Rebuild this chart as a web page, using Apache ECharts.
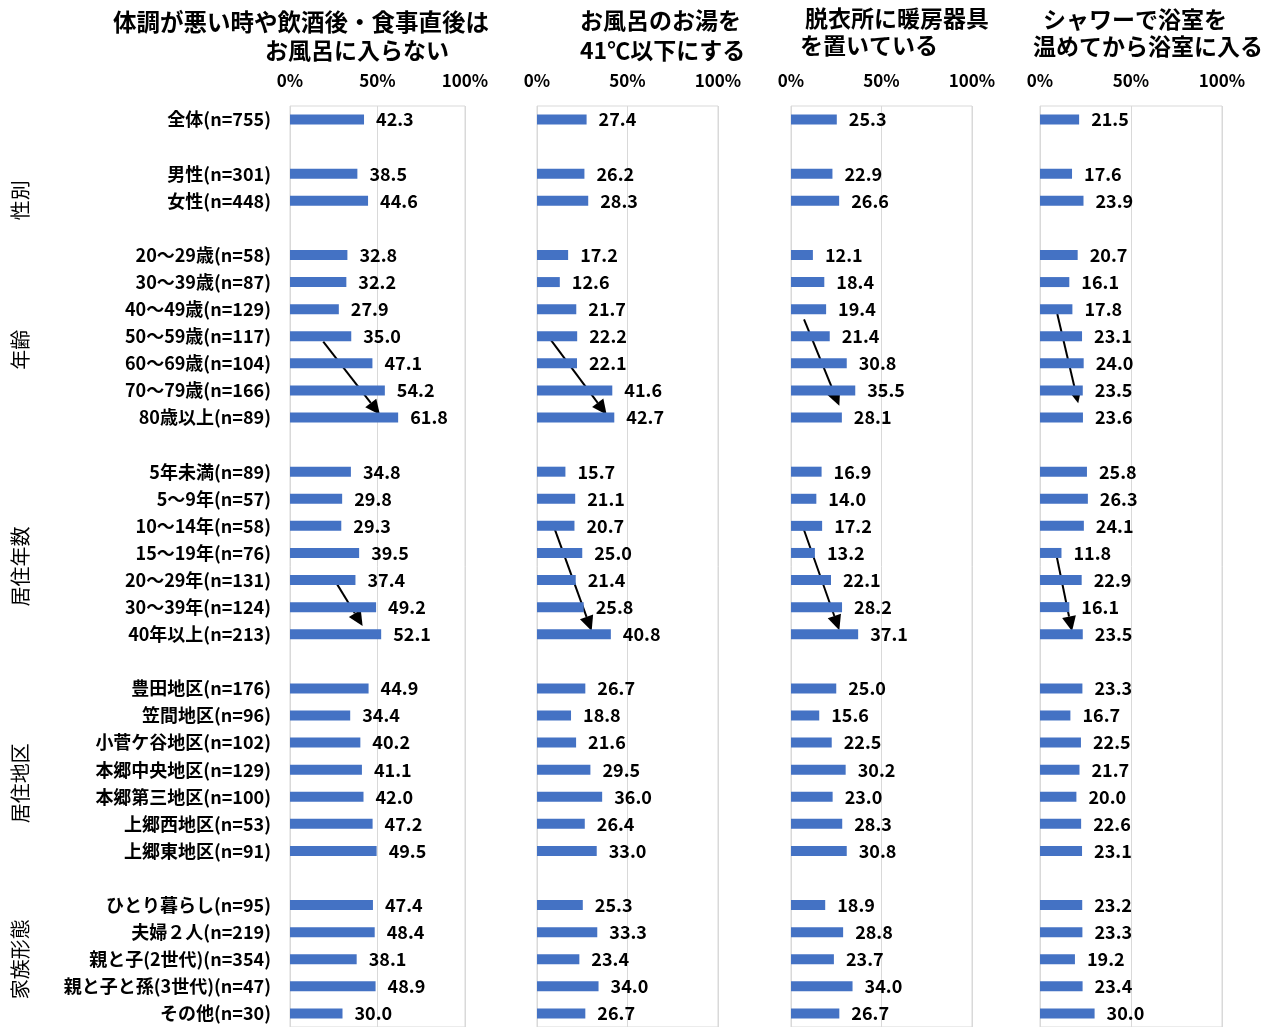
<!DOCTYPE html>
<html><head><meta charset="utf-8">
<script src="https://cdn.jsdelivr.net/npm/echarts@6/dist/echarts.min.js"></script>
<style>html,body{margin:0;padding:0;background:#fff}#c{width:1270px;height:1027px}</style>
</head><body><div id="c"></div>
<script>
// ---- data ----
const groupNames = ['性別', '年齢', '居住年数', '居住地区', '家族形態'];
const catTotal = ['全体(n=755)'];
const catSex = ['男性(n=301)', '女性(n=448)'];
const catAge = ['20～29歳(n=58)', '30～39歳(n=87)', '40～49歳(n=129)', '50～59歳(n=117)', '60～69歳(n=104)', '70～79歳(n=166)', '80歳以上(n=89)'];
const catYears = ['5年未満(n=89)', '5～9年(n=57)', '10～14年(n=58)', '15～19年(n=76)', '20～29年(n=131)', '30～39年(n=124)', '40年以上(n=213)'];
const catArea = ['豊田地区(n=176)', '笠間地区(n=96)', '小菅ケ谷地区(n=102)', '本郷中央地区(n=129)', '本郷第三地区(n=100)', '上郷西地区(n=53)', '上郷東地区(n=91)'];
const catFamily = ['ひとり暮らし(n=95)', '夫婦２人(n=219)', '親と子(2世代)(n=354)', '親と子と孫(3世代)(n=47)', 'その他(n=30)'];

const panelTitles = [
  ['体調が悪い時や飲酒後・食事直後は', 'お風呂に入らない'],
  ['お風呂のお湯を', '41℃以下にする'],
  ['脱衣所に暖房器具', 'を置いている'],
  ['シャワーで浴室を', '温めてから浴室に入る']
];
const xTickValues = [0, 50, 100];

// values in row order: total | sex | age | years | area | family
const valAvoid   = [42.3, 38.5, 44.6, 32.8, 32.2, 27.9, 35.0, 47.1, 54.2, 61.8, 34.8, 29.8, 29.3, 39.5, 37.4, 49.2, 52.1, 44.9, 34.4, 40.2, 41.1, 42.0, 47.2, 49.5, 47.4, 48.4, 38.1, 48.9, 30.0];
const valLowTemp = [27.4, 26.2, 28.3, 17.2, 12.6, 21.7, 22.2, 22.1, 41.6, 42.7, 15.7, 21.1, 20.7, 25.0, 21.4, 25.8, 40.8, 26.7, 18.8, 21.6, 29.5, 36.0, 26.4, 33.0, 25.3, 33.3, 23.4, 34.0, 26.7];
const valHeater  = [25.3, 22.9, 26.6, 12.1, 18.4, 19.4, 21.4, 30.8, 35.5, 28.1, 16.9, 14.0, 17.2, 13.2, 22.1, 28.2, 37.1, 25.0, 15.6, 22.5, 30.2, 23.0, 28.3, 30.8, 18.9, 28.8, 23.7, 34.0, 26.7];
const valShower  = [21.5, 17.6, 23.9, 20.7, 16.1, 17.8, 23.1, 24.0, 23.5, 23.6, 25.8, 26.3, 24.1, 11.8, 22.9, 16.1, 23.5, 23.3, 16.7, 22.5, 21.7, 20.0, 22.6, 23.1, 23.2, 23.3, 19.2, 23.4, 30.0];

// trend arrows (annotations) in data units: [x1 %, row1, x2 %, row2]
const arrows = [
  [[19.0, 8.20, 51.4, 10.90], [24.7, 16.92, 41.5, 18.70]],
  [[6.6, 8.04, 38.5, 10.90], [9.9, 15.14, 30.2, 18.88]],
  [[7.2, 7.38, 26.7, 10.57], [6.8, 15.08, 26.7, 18.85]],
  [[9.5, 7.18, 21.0, 10.47], [9.3, 16.17, 17.6, 18.89]]
];
// group label rows (annotation positions)
const groupLabelRows = [2.98, 8.5, 16.5, 24.5, 31.0];

// ---- build ----
const catGroups = [catTotal, catSex, catAge, catYears, catArea, catFamily];
const categories = [];
catGroups.forEach((g, i) => {
  if (i > 0) categories.push('');
  g.forEach(c => categories.push(c));
});
function pad(vals) {
  const out = [];
  let k = 0;
  catGroups.forEach((g, i) => {
    if (i > 0) out.push(null);
    g.forEach(() => out.push(vals[k++]));
  });
  return out;
}
const panelValues = [valAvoid, valLowTemp, valHeater, valShower].map(pad);

const FONT = '"Noto Sans CJK JP", "Noto Sans", sans-serif';
const gridLefts = [290, 537, 791, 1040];
const gridWidths = [175, 181, 181, 182];
const gridTop = 106;
const rowH = 27.2;
const gridHeight = rowH * categories.length;
const lineColor = '#d9d9d9';

const grids = [], xAxes = [], yAxes = [], series = [];
for (let i = 0; i < 4; i++) {
  grids.push({ left: gridLefts[i], width: gridWidths[i], top: gridTop, height: gridHeight, show: true, borderColor: lineColor, borderWidth: 1, containLabel: false });
  xAxes.push({
    type: 'value', gridIndex: i, position: 'top', min: xTickValues[0], max: xTickValues[2], interval: xTickValues[1] - xTickValues[0],
    axisLine: { show: false }, axisTick: { show: false },
    splitLine: { show: true, lineStyle: { color: lineColor, width: 1 } },
    axisLabel: { formatter: '{value}%', fontFamily: FONT, fontWeight: 'bold', fontSize: 17, color: '#000', margin: 17 }
  });
  yAxes.push({
    type: 'category', gridIndex: i, inverse: true, data: categories,
    axisLine: { show: false }, axisTick: { show: false },
    axisLabel: i === 0 ? { show: true, interval: 0, fontFamily: FONT, fontWeight: 'bold', fontSize: 18, color: '#000', margin: 19 } : { show: false }
  });
  series.push({
    type: 'bar', xAxisIndex: i, yAxisIndex: i, data: panelValues[i], barWidth: 10,
    itemStyle: { color: '#4472C4' }, silent: true,
    label: { show: true, position: 'right', distance: 12, fontFamily: FONT, fontWeight: 'bold', fontSize: 18, color: '#000', formatter: p => p.value == null ? '' : Number(p.value).toFixed(1) }
  });
}

const chart = echarts.init(document.getElementById('c'), null, { renderer: 'canvas' });
chart.setOption({ animation: false, backgroundColor: '#fff', grid: grids, xAxis: xAxes, yAxis: yAxes, series: series });

// ---- annotations ----
const titlePos = [
  [[113, 22], [265, 50]],
  [[580, 20], [580, 50]],
  [[805, 18], [800, 45]],
  [[1043, 19], [1033, 46]]
];
const graphics = [];
panelTitles.forEach((lines, i) => {
  lines.forEach((t, j) => {
    const big = (i === 0 && j === 0);
    graphics.push({ type: 'text', x: titlePos[i][j][0], y: titlePos[i][j][1], style: { text: t, font: 'bold ' + (big ? '23.5px ' : '23px ') + FONT, fill: '#000', textAlign: 'left', textVerticalAlign: 'middle' }, silent: true });
  });
});
function rowToY(gi, r) {
  const y0 = chart.convertToPixel({ gridIndex: gi }, [0, 0])[1];
  const y1 = chart.convertToPixel({ gridIndex: gi }, [0, 1])[1];
  return y0 + (y1 - y0) * r;
}
function xToPx(gi, v) { return chart.convertToPixel({ gridIndex: gi }, [v, 0])[0]; }

groupNames.forEach((g, i) => {
  graphics.push({ type: 'text', x: 20, y: rowToY(0, groupLabelRows[i]), rotation: Math.PI / 2, style: { text: g, font: '20px ' + FONT, fill: '#000', textAlign: 'center', textVerticalAlign: 'middle' }, silent: true });
});

arrows.forEach((list, gi) => {
  list.forEach(a => {
    const x1 = xToPx(gi, a[0]), y1 = rowToY(gi, a[1]);
    const x2 = xToPx(gi, a[2]), y2 = rowToY(gi, a[3]);
    const ang = Math.atan2(y2 - y1, x2 - x1);
    const L = 15, W = 7;
    const bx = x2 - L * Math.cos(ang), by = y2 - L * Math.sin(ang);
    const nx = -Math.sin(ang), ny = Math.cos(ang);
    graphics.push({ type: 'line', shape: { x1: x1, y1: y1, x2: bx, y2: by }, style: { stroke: '#000', lineWidth: 2 }, silent: true });
    graphics.push({ type: 'polygon', shape: { points: [[x2, y2], [bx + nx * W, by + ny * W], [bx - nx * W, by - ny * W]] }, style: { fill: '#000' }, silent: true });
  });
});
chart.setOption({ graphic: graphics });
</script>
</body></html>
